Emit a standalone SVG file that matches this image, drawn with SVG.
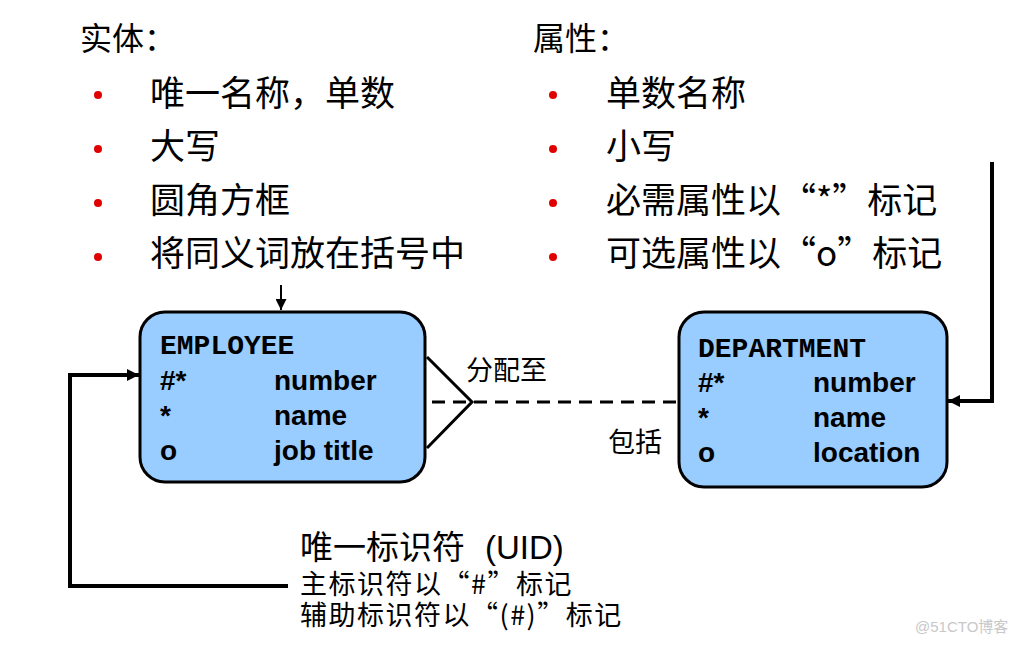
<svg xmlns="http://www.w3.org/2000/svg" width="1024" height="645" viewBox="0 0 1024 645">
<style>
.cjk{font-family:"Noto Sans CJK SC","Liberation Sans",sans-serif;fill:#000}
.h{font-size:32px}
.b{font-size:35px}
.s{font-size:27px}
.s2{font-size:27px;letter-spacing:1.5px}
.lat{font-family:"Liberation Sans",Arial,sans-serif}
.bul{fill:#e00000}
.box{fill:#99ccff;stroke:#000;stroke-width:3}
.ent{font-family:"Liberation Mono","Courier New",monospace;font-weight:bold;font-size:28px;fill:#000}
.att{font-family:"Liberation Sans",Arial,sans-serif;font-weight:bold;font-size:28px;fill:#000}
.ln{fill:none;stroke:#000;stroke-width:4}
.wm{font-family:"Liberation Sans","Noto Sans CJK SC",sans-serif;font-size:15px;fill:#c8c8c8}
</style>
<defs>
<marker id="ah" viewBox="0 0 10 10" refX="10" refY="5" markerWidth="3.4" markerHeight="3" orient="auto" markerUnits="strokeWidth">
<path d="M0,0 L10,5 L0,10 z" fill="#000"/>
</marker>
<marker id="ah2" viewBox="0 0 10 10" refX="10" refY="5" markerWidth="6" markerHeight="5.5" orient="auto" markerUnits="strokeWidth">
<path d="M0,0 L10,5 L0,10 z" fill="#000"/>
</marker>
</defs>
<rect width="1024" height="645" fill="#fff"/>

<g id="entity-rules">
<text class="cjk h" x="80" y="50">实体：</text>
<circle class="bul" cx="98" cy="95" r="4"/>
<circle class="bul" cx="98" cy="149" r="4"/>
<circle class="bul" cx="98" cy="203" r="4"/>
<circle class="bul" cx="98" cy="257" r="4"/>
<text class="cjk b" x="150" y="106">唯一名称，单数</text>
<text class="cjk b" x="150" y="159">大写</text>
<text class="cjk b" x="150" y="213">圆角方框</text>
<text class="cjk b" x="150" y="266">将同义词放在括号中</text>
</g>

<g id="attribute-rules">
<text class="cjk h" x="533" y="50">属性：</text>
<circle class="bul" cx="553" cy="95" r="4"/>
<circle class="bul" cx="553" cy="149" r="4"/>
<circle class="bul" cx="553" cy="203" r="4"/>
<circle class="bul" cx="553" cy="257" r="4"/>
<text class="cjk b" x="606" y="106">单数名称</text>
<text class="cjk b" x="606" y="159">小写</text>
<text class="cjk b" x="606" y="213">必需属性以“*”标记</text>
<text class="cjk b" x="606" y="266">可选属性以“o”标记</text>
</g>

<g id="connectors">
<line x1="281" y1="285" x2="281" y2="310" stroke="#000" stroke-width="2" marker-end="url(#ah2)"/>
<path class="ln" d="M288,586 H70 V375 H139" marker-end="url(#ah)"/>
<path class="ln" d="M992,162 V401 H948" marker-end="url(#ah)"/>
<path d="M427,357 L472,402 L427,448" fill="none" stroke="#000" stroke-width="3"/>
<line x1="432" y1="402" x2="679" y2="402" stroke="#000" stroke-width="3" stroke-dasharray="13,8"/>
<text class="cjk s" x="466" y="380">分配至</text>
<text class="cjk s" x="608" y="452">包括</text>
</g>

<g id="employee">
<rect class="box" x="140" y="312" width="285" height="170" rx="25" ry="25"/>
<text class="ent" x="160" y="354">EMPLOYEE</text>
<text class="att" x="160" y="390">#*</text>
<text class="att" x="274" y="390">number</text>
<text class="att" x="160" y="425">*</text>
<text class="att" x="274" y="425">name</text>
<text class="att" x="160" y="460">o</text>
<text class="att" x="274" y="460">job title</text>
</g>

<g id="department">
<rect class="box" x="679" y="312" width="268" height="175" rx="25" ry="25"/>
<text class="ent" x="698" y="357">DEPARTMENT</text>
<text class="att" x="698" y="392">#*</text>
<text class="att" x="813" y="392">number</text>
<text class="att" x="698" y="427">*</text>
<text class="att" x="813" y="427">name</text>
<text class="att" x="698" y="462">o</text>
<text class="att" x="813" y="462">location</text>
</g>

<g id="uid-note">
<text class="cjk" font-size="33" x="300" y="559">唯一标识符 <tspan class="lat" x="485">(UID)</tspan></text>
<text class="cjk s2" x="300" y="594">主标识符以“#”标记</text>
<text class="cjk s2" x="300" y="625">辅助标识符以“(#)”标记</text>
</g>

<text class="wm" x="915" y="632">@51CTO博客</text>
</svg>
